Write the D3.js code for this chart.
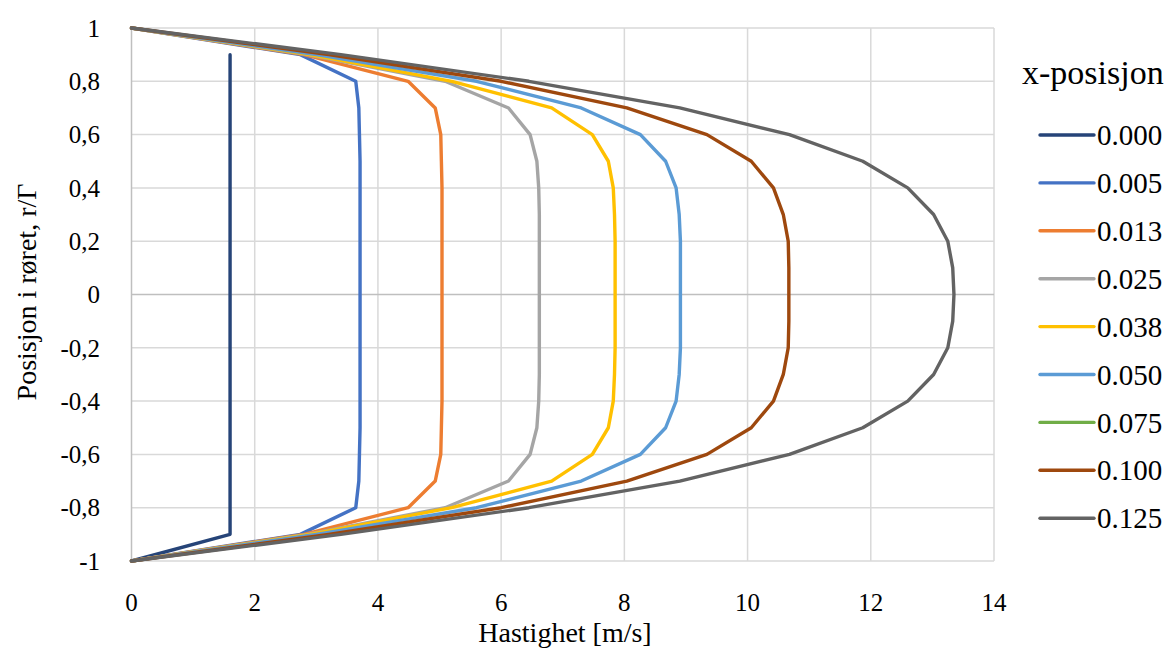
<!DOCTYPE html>
<html>
<head>
<meta charset="utf-8">
<script src="https://cdn.jsdelivr.net/npm/d3@7"></script>
<style>
  body { margin: 0; background: #fff; }
  svg { display: block; }
  text { font-family: "Liberation Serif", "Times New Roman", serif; fill: #000; }
</style>
</head>
<body>
<svg id="chart" width="1174" height="652" font-family="Liberation Serif, serif"></svg>
<script>
// radial positions r/Γ
const positions = [1, 0.9, 0.8, 0.7, 0.6, 0.5, 0.4, 0.3, 0.2, 0.1, 0, -0.1, -0.2, -0.3, -0.4, -0.5, -0.6, -0.7, -0.8, -0.9, -1];

const seriesNames = ["0.000", "0.005", "0.013", "0.025", "0.038", "0.050", "0.075", "0.100", "0.125"];
const seriesColors = ["#264478", "#4472C4", "#ED7D31", "#A5A5A5", "#FFC000", "#5B9BD5", "#70AD47", "#9E480E", "#636363"];

const v000 = [null, 1.6, 1.6, 1.6, 1.6, 1.6, 1.6, 1.6, 1.6, 1.6, 1.6, 1.6, 1.6, 1.6, 1.6, 1.6, 1.6, 1.6, 1.6, 1.6, 0];
const v005 = [0, 2.74, 3.64, 3.69, 3.70, 3.71, 3.71, 3.71, 3.71, 3.71, 3.71, 3.71, 3.71, 3.71, 3.71, 3.71, 3.70, 3.69, 3.64, 2.74, 0];
const v013 = [0, 2.80, 4.49, 4.93, 5.02, 5.03, 5.04, 5.04, 5.04, 5.04, 5.04, 5.04, 5.04, 5.04, 5.04, 5.03, 5.02, 4.93, 4.49, 2.80, 0];
const v025 = [0, 2.85, 5.09, 6.12, 6.47, 6.58, 6.61, 6.62, 6.62, 6.62, 6.62, 6.62, 6.62, 6.62, 6.61, 6.58, 6.47, 6.12, 5.09, 2.85, 0];
const v038 = [0, 2.90, 5.20, 6.82, 7.48, 7.74, 7.82, 7.84, 7.85, 7.85, 7.85, 7.85, 7.85, 7.84, 7.82, 7.74, 7.48, 6.82, 5.20, 2.90, 0];
const v050 = [0, 3.00, 5.60, 7.30, 8.26, 8.67, 8.84, 8.89, 8.91, 8.91, 8.91, 8.91, 8.91, 8.89, 8.84, 8.67, 8.26, 7.30, 5.60, 3.00, 0];
const v075 = [];
const v100 = [0, 3.20, 6.00, 8.04, 9.34, 10.06, 10.42, 10.58, 10.66, 10.67, 10.67, 10.67, 10.66, 10.58, 10.42, 10.06, 9.34, 8.04, 6.00, 3.20, 0];
const v125 = [0, 3.40, 6.45, 8.90, 10.68, 11.87, 12.60, 13.02, 13.25, 13.33, 13.35, 13.33, 13.25, 13.02, 12.60, 11.87, 10.68, 8.90, 6.45, 3.40, 0];

const seriesValues = [v000, v005, v013, v025, v038, v050, v075, v100, v125];

const xTicks = [0, 2, 4, 6, 8, 10, 12, 14];
const yTicks = [1, 0.8, 0.6, 0.4, 0.2, 0, -0.2, -0.4, -0.6, -0.8, -1];

const xTitle = "Hastighet [m/s]";
const yTitle = "Posisjon i røret, r/Γ";
const legendTitle = "x-posisjon";

const FONT = "'Liberation Serif', 'Times New Roman', serif";
const svg = d3.select("#chart");
const L = 131.5, R = 994, T = 28, B = 561;
const x = d3.scaleLinear().domain([0, 14]).range([L, R]);
const y = d3.scaleLinear().domain([-1, 1]).range([B, T]);

// grid
const grid = svg.append("g");
grid.selectAll("line.v").data(xTicks.filter(d => d !== 0)).enter().append("line")
  .attr("x1", d => x(d)).attr("x2", d => x(d)).attr("y1", T).attr("y2", B)
  .attr("stroke", "#D9D9D9").attr("stroke-width", 1.5);
grid.selectAll("line.h").data(yTicks.filter(d => d !== 0)).enter().append("line")
  .attr("x1", L).attr("x2", R).attr("y1", d => y(d)).attr("y2", d => y(d))
  .attr("stroke", "#D9D9D9").attr("stroke-width", 1.5);
// axis lines
svg.append("line").attr("x1", L).attr("x2", R).attr("y1", y(0)).attr("y2", y(0))
  .attr("stroke", "#BFBFBF").attr("stroke-width", 1.5);
svg.append("line").attr("x1", x(0)).attr("x2", x(0)).attr("y1", T).attr("y2", B)
  .attr("stroke", "#BFBFBF").attr("stroke-width", 1.5);

// tick labels
const fmt = d => String(d).replace(".", ",");
svg.append("g").selectAll("text").data(yTicks).enter().append("text")
  .attr("x", 100).attr("y", d => y(d)).attr("dy", "0.35em")
  .attr("text-anchor", "end").style("font-family", FONT).style("font-size", "25px").text(fmt);
svg.append("g").selectAll("text").data(xTicks).enter().append("text")
  .attr("x", d => x(d)).attr("y", 611)
  .attr("text-anchor", "middle").style("font-family", FONT).style("font-size", "25px").text(d => d);

// titles
svg.append("text").attr("x", 565).attr("y", 642).attr("text-anchor", "middle")
  .style("font-family", FONT).style("font-size", "28px").text(xTitle);
svg.append("text").attr("transform", "translate(36,292) rotate(-90)").attr("text-anchor", "middle")
  .style("font-family", FONT).style("font-size", "28px").text(yTitle);

// lines
const line = d3.line().defined(d => d[0] !== null && d[0] !== undefined).x(d => x(d[0])).y(d => y(d[1]));
const lg = svg.append("g");
seriesValues.forEach((vals, i) => {
  const pts = vals.map((v, j) => [v, positions[j]]);
  lg.append("path").datum(pts).attr("d", line)
    .attr("fill", "none").attr("stroke", seriesColors[i]).attr("stroke-width", 3.4)
    .attr("stroke-linejoin", "round").attr("stroke-linecap", "round");
});

// legend
svg.append("text").attr("x", 1022).attr("y", 84).style("font-family", FONT).style("font-size", "34px").text(legendTitle);
const leg = svg.append("g").selectAll("g").data(seriesNames).enter().append("g")
  .attr("transform", (d, i) => `translate(0, ${135 + i * 47.9})`);
leg.append("line").attr("x1", 1040).attr("x2", 1094).attr("y1", 0).attr("y2", 0)
  .attr("stroke", (d, i) => seriesColors[i]).attr("stroke-width", 3.4).attr("stroke-linecap", "round");
leg.append("text").attr("x", 1097).attr("y", 0).attr("dy", "0.35em").style("font-family", FONT).style("font-size", "29px").text(d => d);
</script>
</body>
</html>
